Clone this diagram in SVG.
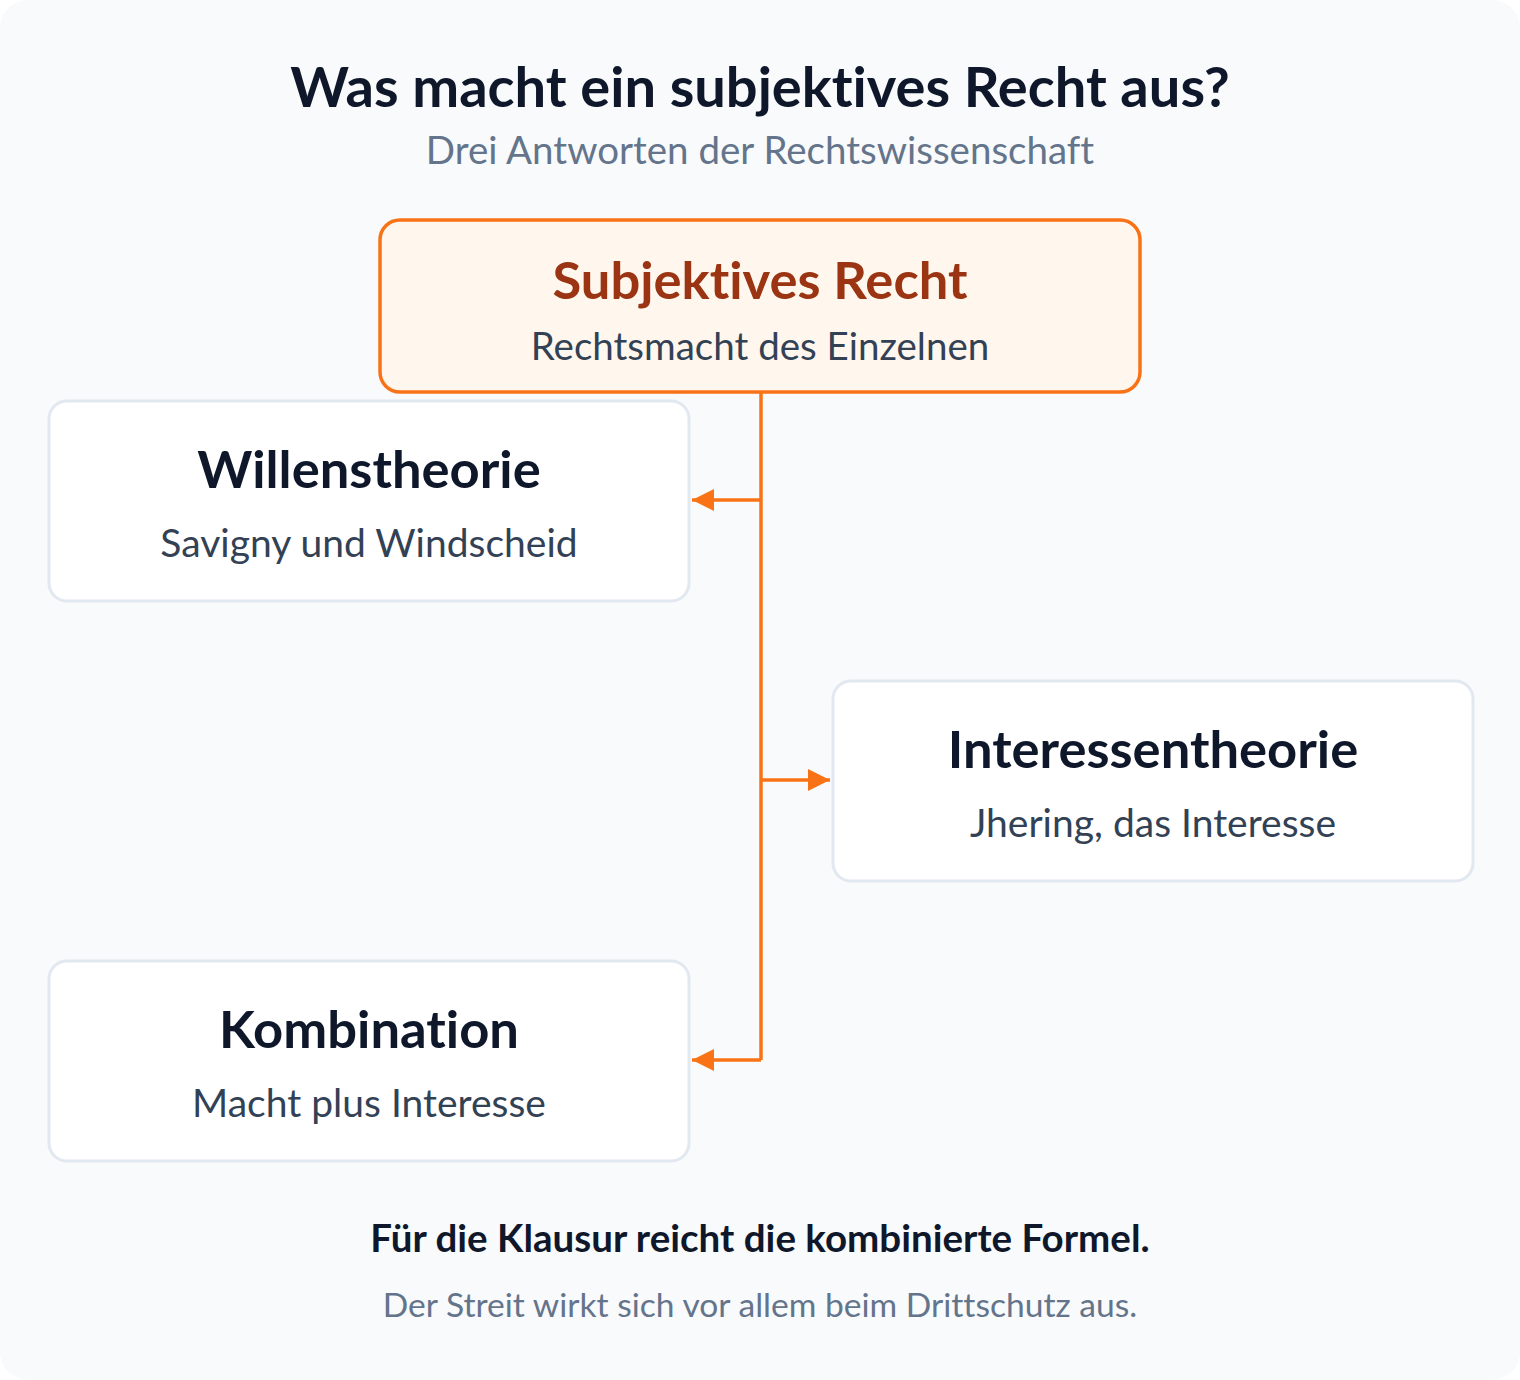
<svg xmlns="http://www.w3.org/2000/svg" width="1520" height="1380" viewBox="0 0 1520 1380">
<style>
.t{font-family:Lato,"Noto Sans",sans-serif;text-anchor:middle;font-variant-ligatures:none;font-feature-settings:"liga" 0,"clig" 0,"dlig" 0,"calt" 0;letter-spacing:0.01px}
.h{font-weight:700;font-size:52.5px;fill:#0f172a}
.s{font-size:39px;fill:#334155}
.box{fill:#ffffff;stroke:#e2e8f0;stroke-width:3}
.ln{stroke:#f97316;stroke-width:3.5;fill:none}
</style>
<defs>
<marker id="ah" viewBox="0 0 22 22" refX="22" refY="11" markerWidth="22" markerHeight="22" markerUnits="userSpaceOnUse" orient="auto"><path d="M0,0L22,11L0,22z" fill="#f97316"/></marker>
</defs>
<rect x="0" y="0" width="1520" height="1380" rx="28" fill="#f8fafc"/>
<text class="t" x="760" y="107" font-size="56" font-weight="700" fill="#0f172a">Was macht ein subjektives Recht aus?</text>
<text class="t" x="760" y="164" font-size="38.5" fill="#64748b">Drei Antworten der Rechtswissenschaft</text>
<g id="connectors">
<path class="ln" d="M761,392V1060"/>
<path class="ln" d="M761,500H692" marker-end="url(#ah)"/>
<path class="ln" d="M761,780H830" marker-end="url(#ah)"/>
<path class="ln" d="M761,1060H692" marker-end="url(#ah)"/>
</g>
<g id="root">
<rect x="380" y="220" width="760" height="172" rx="20" fill="#fff7ed" stroke="#f97316" stroke-width="3.5"/>
<text class="t" x="760" y="299" font-size="52.5" font-weight="700" fill="#9a3412">Subjektives Recht</text>
<text class="t" x="760" y="360" font-size="38.5" fill="#334155">Rechtsmacht des Einzelnen</text>
</g>
<g id="willenstheorie">
<rect class="box" x="49" y="401" width="640" height="200" rx="18"/>
<text class="t h" x="369" y="488">Willenstheorie</text>
<text class="t s" x="369" y="557">Savigny und Windscheid</text>
</g>
<g id="interessentheorie">
<rect class="box" x="833" y="681" width="640" height="200" rx="18"/>
<text class="t h" x="1153" y="768">Interessentheorie</text>
<text class="t s" x="1153" y="837">Jhering, das Interesse</text>
</g>
<g id="kombination">
<rect class="box" x="49" y="961" width="640" height="200" rx="18"/>
<text class="t h" x="369" y="1048">Kombination</text>
<text class="t s" x="369" y="1117">Macht plus Interesse</text>
</g>
<text class="t" x="760" y="1252" font-size="38.5" font-weight="700" fill="#0f172a">Für die Klausur reicht die kombinierte Formel.</text>
<text class="t" x="760" y="1317" font-size="33.6" fill="#64748b">Der Streit wirkt sich vor allem beim Drittschutz aus.</text>
</svg>
